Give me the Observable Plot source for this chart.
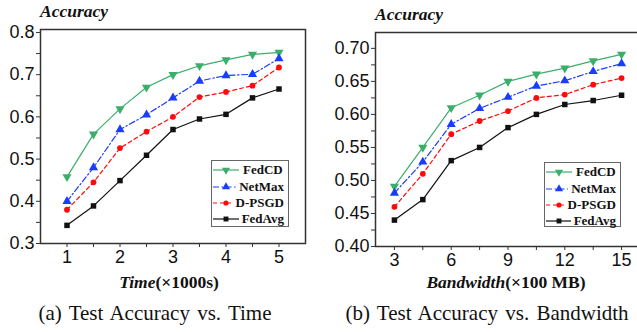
<!DOCTYPE html>
<html><head><meta charset="utf-8">
<script src="https://cdn.jsdelivr.net/npm/d3@7"></script>
<script src="https://cdn.jsdelivr.net/npm/@observablehq/plot@0.6"></script>
<style>
html,body{margin:0;padding:0;background:#fff;width:637px;height:332px;overflow:hidden;position:relative}
.abs{position:absolute;white-space:nowrap}
.ytitle{font-family:"Liberation Serif","Times New Roman",serif;font-weight:bold;font-style:italic;font-size:17.5px;color:#111}
.xtitle{font-family:"Liberation Serif","Times New Roman",serif;font-weight:bold;font-size:17.5px;color:#111;transform:translateX(-50%)}
.xtitle i{font-style:italic}
.caption{font-family:"Liberation Serif","Times New Roman",serif;font-size:21px;color:#111;transform:translateX(-50%);word-spacing:2px}
.legend{border:1px solid #666;background:#fff;font-family:"Liberation Serif","Times New Roman",serif;font-weight:bold;font-size:13px;color:#111;padding:1px 4px 1px 0;box-sizing:border-box}
.legend .row{height:16.4px;display:flex;align-items:center}
.legend svg{margin-right:3px}
</style></head><body>
<script>
// ---- data ----
const series = ["FedCD", "NetMax", "D-PSGD", "FedAvg"];

const timeX = [1, 1.5, 2, 2.5, 3, 3.5, 4, 4.5, 5];
const timeFedCD  = [0.458, 0.559, 0.619, 0.670, 0.700, 0.721, 0.735, 0.748, 0.753];
const timeNetMax = [0.400, 0.480, 0.570, 0.605, 0.645, 0.685, 0.698, 0.701, 0.738];
const timeDPSGD  = [0.380, 0.445, 0.526, 0.565, 0.600, 0.647, 0.659, 0.674, 0.717];
const timeFedAvg = [0.343, 0.389, 0.449, 0.509, 0.570, 0.595, 0.606, 0.645, 0.666];

const bwX = [3, 4.5, 6, 7.5, 9, 10.5, 12, 13.5, 15];
const bwFedCD  = [0.491, 0.550, 0.610, 0.629, 0.650, 0.661, 0.670, 0.681, 0.691];
const bwNetMax = [0.481, 0.528, 0.585, 0.609, 0.626, 0.643, 0.651, 0.665, 0.677];
const bwDPSGD  = [0.460, 0.510, 0.570, 0.590, 0.605, 0.625, 0.630, 0.645, 0.655];
const bwFedAvg = [0.440, 0.471, 0.530, 0.550, 0.580, 0.600, 0.615, 0.621, 0.629];

const timeTicks = [1, 2, 3, 4, 5];
const timeMinor = [1.5, 2.5, 3.5, 4.5];
const accTicksA = [0.3, 0.4, 0.5, 0.6, 0.7, 0.8];
const accMinorA = [0.35, 0.45, 0.55, 0.65, 0.75];
const bwTicks = [3, 6, 9, 12, 15];
const bwMinor = [4.5, 7.5, 10.5, 13.5];
const accTicksB = [0.40, 0.45, 0.50, 0.55, 0.60, 0.65, 0.70];
const accMinorB = [0.425, 0.475, 0.525, 0.575, 0.625, 0.675];

// ---- styles ----
const style = {
  "FedCD":  {color: "#3cae6c", dash: null,          symbol: "triangle", rotate: 180, r: 3.4},
  "NetMax": {color: "#1a3cff", dash: "6,2.5,1.5,2.5", symbol: "triangle", rotate: 0,   r: 3.4},
  "D-PSGD": {color: "#ff0a0a", dash: "4,3",         symbol: "circle",   rotate: 0,   r: 2.9},
  "FedAvg": {color: "#111111", dash: null,          symbol: "square",   rotate: 0,   r: 3.1}
};

function rowsOf(xs, lists) {
  const out = [];
  series.forEach((s, k) => xs.forEach((x, i) => out.push({series: s, x, y: lists[k][i]})));
  return out;
}
const timeRows = rowsOf(timeX, [timeFedCD, timeNetMax, timeDPSGD, timeFedAvg]);
const bwRows = rowsOf(bwX, [bwFedCD, bwNetMax, bwDPSGD, bwFedAvg]);

function panel(rows, cfg) {
  const marks = [Plot.frame({stroke: "#333", strokeWidth: 1.5})];
  for (const s of series) {
    const st = style[s];
    const d = rows.filter(r => r.series === s);
    marks.push(Plot.line(d, {x: "x", y: "y", stroke: st.color, strokeWidth: 1.2, strokeDasharray: st.dash}));
  }
  for (const s of series) {
    const st = style[s];
    const d = rows.filter(r => r.series === s);
    marks.push(Plot.dot(d, {x: "x", y: "y", symbol: st.symbol, fill: st.color, stroke: "none", r: st.r, rotate: st.rotate}));
  }
  marks.push(
    Plot.axisX(cfg.xTicks, {tickSize: 4, tickPadding: 3, label: null, stroke: "#333", fill: "#111", fontSize: 18}),
    Plot.axisX(cfg.xMinor, {tickSize: 4, label: null, stroke: "#333", tickFormat: () => ""}),
    Plot.axisY(cfg.yTicks, {tickSize: 4, tickPadding: 2, label: null, stroke: "#333", fill: "#111", fontSize: 18, tickFormat: cfg.yFormat}),
    Plot.axisY(cfg.yMinor, {tickSize: 4, label: null, stroke: "#333", tickFormat: () => ""})
  );
  return Plot.plot({
    width: cfg.width, height: cfg.height,
    marginLeft: cfg.ml, marginRight: cfg.mr, marginTop: cfg.mt, marginBottom: cfg.mb,
    x: {domain: cfg.xDomain},
    y: {domain: cfg.yDomain},
    style: {fontFamily: "'Liberation Sans', Arial, sans-serif", fontSize: "18px", color: "#111", background: "transparent", overflow: "visible"},
    marks
  });
}

function place(el, left, top) {
  el.classList.add("abs");
  el.style.left = left + "px";
  el.style.top = top + "px";
  document.body.appendChild(el);
  return el;
}

const pA = panel(timeRows, {
  width: 318, height: 265, ml: 40, mr: 13, mt: 29, mb: 22,
  xDomain: [0.5, 5.5], yDomain: [0.3, 0.807],
  xTicks: timeTicks, xMinor: timeMinor, yTicks: accTicksA, yMinor: accMinorA, yFormat: d3.format(".1f")
});
place(pA, 0, 0);

const pB = panel(bwRows, {
  width: 330, height: 265, ml: 57, mr: 8, mt: 32, mb: 19,
  xDomain: [2, 16], yDomain: [0.4, 0.724],
  xTicks: bwTicks, xMinor: bwMinor, yTicks: accTicksB, yMinor: accMinorB, yFormat: d3.format(".2f")
});
place(pB, 318, 0);

function text(html, cls, left, top) {
  const d = document.createElement("div");
  d.className = cls;
  d.innerHTML = html;
  return place(d, left, top);
}
text("Accuracy", "ytitle", 40, 1);
text("Accuracy", "ytitle", 375, 4);
text("<i>Time</i>(×1000s)", "xtitle", 169, 272);
text("<i>Bandwidth</i>(×100 MB)", "xtitle", 506, 272);
text("(a) Test Accuracy vs. Time", "caption", 155, 301);
text("(b) Test Accuracy vs. Bandwidth", "caption", 487, 301);

function legend(left, top, w, h) {
  const box = document.createElement("div");
  box.className = "legend";
  box.style.width = w + "px";
  box.style.height = h + "px";
  for (const s of series) {
    const st = style[s];
    const row = document.createElement("div");
    row.className = "row";
    const sym = d3.symbol(st.symbol === "triangle" ? d3.symbolTriangle : st.symbol === "square" ? d3.symbolSquare : d3.symbolCircle, Math.PI * st.r * st.r * 0.8)();
    row.innerHTML = `<svg width="28" height="12"><line x1="1" x2="27" y1="6" y2="6" stroke="${st.color}" stroke-width="1.2" ${st.dash ? `stroke-dasharray="${st.dash}"` : ""}/><path d="${sym}" fill="${st.color}" transform="translate(14,6) rotate(${st.rotate})"/></svg><span>${s}</span>`;
    box.appendChild(row);
  }
  return place(box, left, top);
}
legend(211, 160, 78, 67);
legend(544, 162, 77, 65);
</script>
</body></html>
